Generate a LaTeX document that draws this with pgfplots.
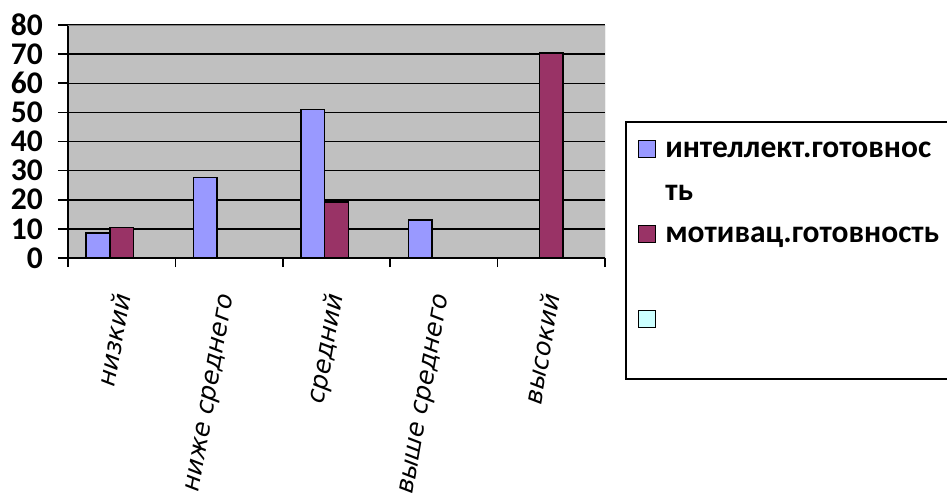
\documentclass[border=0pt]{standalone}
\usepackage{fontspec}
\setmainfont{Carlito}
\newfontfamily\catfont{DejaVu Sans}
\usepackage{pgfplots}
\pgfplotsset{compat=1.18}

\definecolor{intblue}{HTML}{9999FF}
\definecolor{motred}{HTML}{993366}
\definecolor{emptycyan}{HTML}{CCFFFF}
\definecolor{plotgray}{HTML}{C0C0C0}
\definecolor{bordergray}{HTML}{808080}

\pgfplotsset{sqlegend/.style={legend image code/.code={\draw[##1, draw=black, line width=1.5pt] (0pt,0pt) rectangle (17pt,17pt);}}}

\begin{document}
\begin{tikzpicture}[x=1pt,y=1pt]
\path[use as bounding box] (0,0) rectangle (947,493);
\begin{axis}[
    at={(68pt,235pt)}, anchor=south west,
    scale only axis, width=537pt, height=233pt,
    xmin=-0.5, xmax=4.5, ymin=0, ymax=80,
    axis lines*=left,
    axis line style={black, line width=1.6pt},
    axis background/.style={fill=plotgray},
    ytick={0,10,...,80},
    ymajorgrids, grid style={black, line width=1.5pt},
    xtick={0,...,4},
    xticklabels={низкий, ниже среднего, средний, выше среднего, высокий},
    minor xtick={-0.5,0.5,...,4.5},
    tick align=outside,
    major tick length=10pt, minor tick length=9pt,
    tick style={black, line width=1.6pt},
    major x tick style={draw=none},
    /pgf/number format/assume math mode=true,
    yticklabel style={font=\fontsize{31.5}{33}\selectfont\bfseries, inner sep=0pt, xshift=-15pt},
    xticklabel style={font=\catfont\itshape\fontsize{25}{28}\selectfont, rotate=80, anchor=east, inner sep=0pt},
    xticklabel shift=26pt,
    ybar=0pt, bar width=0.22,
    legend style={at={(1.0372,0.588)}, anchor=north west,
        draw=black, line width=1.6pt,
        font=\fontsize{31.5}{42.5}\selectfont\bfseries,
        inner xsep=12pt, inner ysep=6pt, row sep=0pt, column sep=9pt,
        cells={anchor=base west},
        nodes={text width=283pt, align=left, inner sep=0pt, text depth=}},
]
\addplot[ybar, bar shift=-0.22, fill=intblue, draw=black, line width=1.6pt, sqlegend]
    coordinates {(0,8.5) (1,27.7) (2,51) (3,13)};
\addplot[ybar, bar shift=0, fill=motred, draw=black, line width=1.6pt, sqlegend]
    coordinates {(0,10.5) (2,19.2) (4,70.3)};
\addlegendimage{fill=emptycyan, sqlegend}
\addlegendentry{\strut интеллект.готовнос\\\strut ть}
\addlegendentry{\strut мотивац.готовность\\\strut}
\addlegendentry{\strut\\\rule[-3pt]{0pt}{3pt}}
\draw[bordergray, line width=1pt] (rel axis cs:0,1) -- (rel axis cs:1,1) -- (rel axis cs:1,0);
\end{axis}
\end{tikzpicture}
\end{document}
